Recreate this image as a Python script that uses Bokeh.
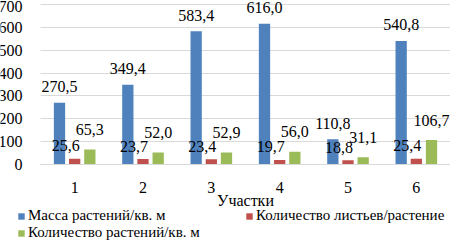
from bokeh.plotting import figure
from bokeh.models import (Range1d, ColumnDataSource, Legend, LegendItem, FixedTicker, Grid)
from bokeh.transform import dodge
from bokeh.core.properties import value
from bokeh.embed import file_html
from bokeh.resources import INLINE

# ---- data ----
plots = ["1", "2", "3", "4", "5", "6"]
mass = [270.5, 349.4, 583.4, 616.0, 110.8, 540.8]
leaves = [25.6, 23.7, 23.4, 19.7, 18.8, 25.4]
plants = [65.3, 52.0, 52.9, 56.0, 31.1, 106.7]
series_names = ["Масса растений/кв. м", "Количество листьев/растение",
                "Количество растений/кв. м"]
y_ticks = [0, 100, 200, 300, 400, 500, 600, 700]
x_title = "Участки"


def fmt(v):
    return f"{v:.1f}".replace(".", ",")


xs = list(range(1, len(plots) + 1))          # category positions
src = ColumnDataSource(dict(
    x=xs, mass=mass, leaves=leaves, plants=plants,
    mass_lbl=[fmt(v) for v in mass],
    leaves_lbl=[fmt(v) for v in leaves],
    plants_lbl=[fmt(v) for v in plants],
))

FONT = "Liberation Serif"
colors = ["#4F81BD", "#C0504D", "#9BBB59"]
x_lo, x_hi = xs[0] - 0.5, xs[-1] + 0.5

# frame covers the whole figure; axes are pinned inside it
p = figure(width=450, height=241, x_range=Range1d(x_lo - 0.5854, x_hi),
           y_range=Range1d(-337, 717.5), output_backend="svg", toolbar_location=None,
           min_border=0)
p.outline_line_color = None
p.background_fill_color = "white"

off = 0.222
bw = 0.165
r1 = p.vbar(x=dodge("x", -off), top="mass", width=bw, source=src,
            color=colors[0], line_color=None)
r2 = p.vbar(x=dodge("x", 0), top="leaves", width=bw, source=src,
            color=colors[1], line_color=None)
r3 = p.vbar(x=dodge("x", off), top="plants", width=bw, source=src,
            color=colors[2], line_color=None)

common = dict(source=src, text_font=value(FONT), text_font_size="16px",
              text_color="#000000", text_align="center", text_baseline="middle")
p.text(x=dodge("x", -off), y="mass", text="mass_lbl", y_offset=-16, **common)
p.text(x=dodge("x", 0), y="leaves", text="leaves_lbl", y_offset=-13, x_offset=-9, **common)
p.text(x=dodge("x", off), y="plants", text="plants_lbl", y_offset=-20, **common)

# y axis
yax = p.yaxis[0]
yax.fixed_location = x_lo
yax.ticker = FixedTicker(ticks=y_ticks)
yax.bounds = (y_ticks[0], y_ticks[-1])
yax.axis_line_color = None
yax.major_tick_line_color = None
yax.minor_tick_line_color = None
yax.major_label_standoff = 12
yax.major_label_text_font = FONT
yax.major_label_text_font_size = "16px"
yax.major_label_text_color = "#000000"

# x axis
xax = p.xaxis[0]
xax.fixed_location = 0
xax.bounds = (x_lo, x_hi)
xax.ticker = FixedTicker(ticks=xs)
xax.major_label_overrides = {x: lab for x, lab in zip(xs, plots)}
xax.axis_line_color = "#d9d9d9"
xax.major_tick_line_color = None
xax.minor_tick_line_color = None
xax.major_label_standoff = 12
xax.major_label_text_font = FONT
xax.major_label_text_font_size = "16px"
xax.major_label_text_color = "#000000"
xax.axis_label = x_title
xax.axis_label_text_font = FONT
xax.axis_label_text_font_size = "16px"
xax.axis_label_text_font_style = "normal"
xax.axis_label_text_color = "#000000"
xax.axis_label_standoff = -5

p.xgrid.grid_line_color = None
p.ygrid.grid_line_color = "#d9d9d9"
p.ygrid.ticker = FixedTicker(ticks=y_ticks)
if "cross_bounds" in Grid.properties():
    p.ygrid.cross_bounds = (x_lo, x_hi)

# legends (inside the frame, below the axis)
legend_style = dict(glyph_width=8, glyph_height=8, label_standoff=3, padding=0, margin=0,
                    spacing=0, border_line_color=None, background_fill_alpha=0,
                    label_text_font=FONT, label_text_font_size="15px",
                    label_text_color="#000000", label_height=16)
locs = [(17, 17), (245, 17), (17, 0)]
for r, name, loc in zip([r1, r2, r3], series_names, locs):
    lg = Legend(items=[LegendItem(label=value(name), renderers=[r])], location=loc,
                **legend_style)
    p.add_layout(lg, "center")

open("out.html", "w").write(file_html(p, INLINE))
